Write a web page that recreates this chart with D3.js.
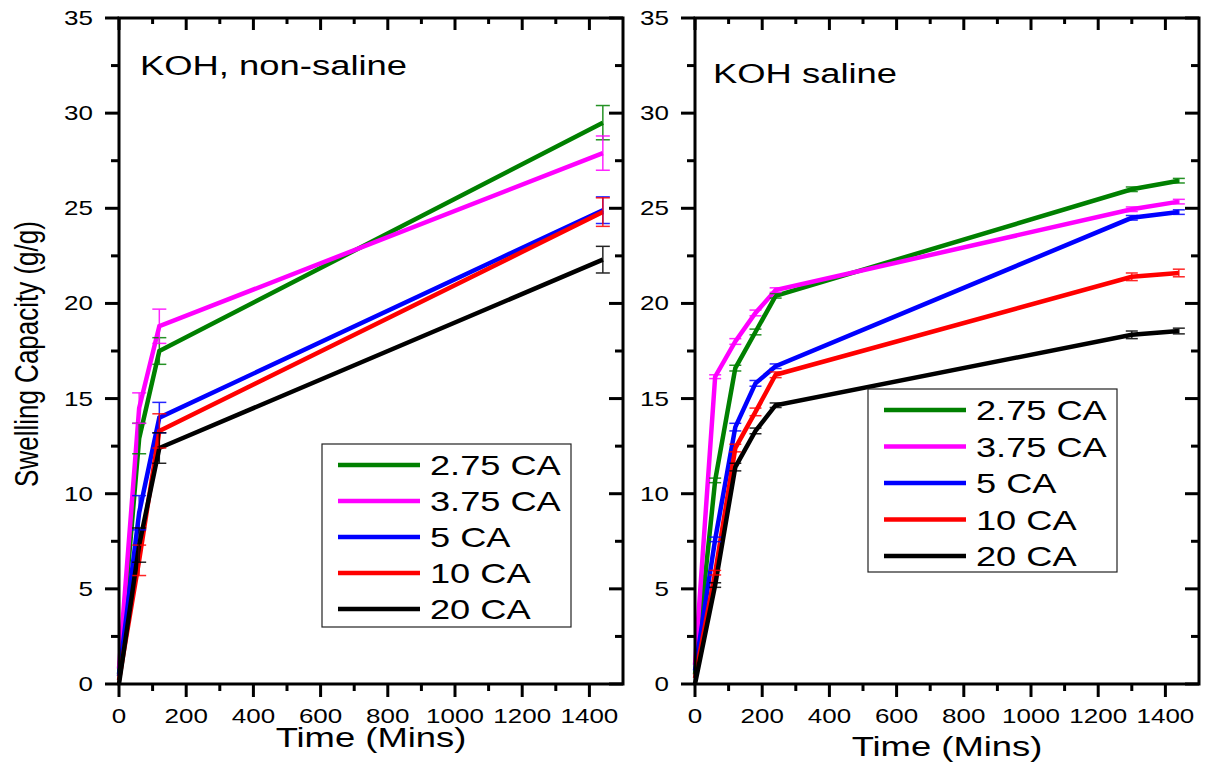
<!DOCTYPE html>
<html><head><meta charset="utf-8">
<script src="https://cdn.jsdelivr.net/npm/d3@7"></script>
<style>
html,body{margin:0;padding:0;background:#fff;}
svg{display:block;font-family:"Liberation Sans",Arial,sans-serif;}
</style></head>
<body>
<svg id="chart" width="1212" height="763"></svg>
<script>
// ---------- data ----------
const seriesNames = ["2.75 CA", "3.75 CA", "5 CA", "10 CA", "20 CA"];
const seriesColors = ["#008000", "#ff00ff", "#0000ff", "#ff0000", "#000000"];

// Panel A: KOH, non-saline
const timesA = [0, 60, 120, 1440];
const a_275 = [0.5, 12.9, 17.5, 29.5];
const a_375 = [0.8, 14.5, 18.8, 27.9];
const a_5   = [0.4, 9.0, 14.0, 24.9];
const a_10  = [0.2, 6.5, 13.3, 24.8];
const a_20  = [0.0, 7.3, 12.4, 22.3];
const aErr_275 = [0, 0.8, 0.7, 0.9];
const aErr_375 = [0, 0.8, 0.9, 0.9];
const aErr_5   = [0, 0.9, 0.8, 0.7];
const aErr_10  = [0, 0.8, 0.9, 0.75];
const aErr_20  = [0, 0.9, 0.8, 0.7];

// Panel B: KOH saline
const timesB = [0, 60, 120, 180, 240, 1300, 1440];
const b_275 = [0.5, 10.7, 16.6, 18.5, 20.4, 26.0, 26.45];
const b_375 = [1.0, 16.15, 18.0, 19.5, 20.7, 24.95, 25.35];
const b_5   = [0.7, 7.6, 13.5, 15.8, 16.7, 24.5, 24.8];
const b_10  = [0.3, 5.85, 12.4, 14.3, 16.25, 21.4, 21.6];
const b_20  = [0.0, 5.2, 11.4, 13.3, 14.65, 18.35, 18.55];
const bErr_275 = [0, 0.12, 0.15, 0.15, 0.12, 0.12, 0.12];
const bErr_375 = [0, 0.1, 0.15, 0.15, 0.12, 0.12, 0.12];
const bErr_5   = [0, 0.12, 0.2, 0.15, 0.12, 0.12, 0.12];
const bErr_10  = [0, 0.12, 0.2, 0.2, 0.15, 0.2, 0.2];
const bErr_20  = [0, 0.12, 0.2, 0.15, 0.12, 0.2, 0.15];

const xTicks = [0, 200, 400, 600, 800, 1000, 1200, 1400];
const yTicks = [0, 5, 10, 15, 20, 25, 30, 35];
const xDomain = [0, 1500];
const yDomain = [0, 35];
const yTitle = "Swelling Capacity (g/g)";
const xTitle = "Time (Mins)";

const panels = [
  {title: "KOH, non-saline", times: timesA,
   values: [a_275, a_375, a_5, a_10, a_20],
   errors: [aErr_275, aErr_375, aErr_5, aErr_10, aErr_20],
   x0: 119, x1: 623, titleX: 140, titleY: 75, xTitleY: 747,
   legend: {x: 322, y: 444, w: 249, h: 183, row0: 465, step: 36}, capW: 14},
  {title: "KOH saline", times: timesB,
   values: [b_275, b_375, b_5, b_10, b_20],
   errors: [bErr_275, bErr_375, bErr_5, bErr_10, bErr_20],
   x0: 695, x1: 1199, titleX: 713, titleY: 83, xTitleY: 756,
   legend: {x: 868, y: 389, w: 249, h: 183, row0: 410, step: 36.5}, capW: 12}
];

// ---------- drawing ----------
const svg = d3.select("#chart");
const SX = 1.3;
const yTop = 18, yBot = 684;

function stext(g, x, y, str, size, anchor, sx) {
  return g.append("text")
    .attr("transform", `translate(${x},${y}) scale(${sx || SX},1)`)
    .attr("text-anchor", anchor || "start")
    .attr("font-size", size)
    .attr("fill", "#000")
    .text(str);
}

panels.forEach(p => {
  const g = svg.append("g");
  const x = d3.scaleLinear().domain(xDomain).range([p.x0, p.x1]);
  const y = d3.scaleLinear().domain(yDomain).range([yBot, yTop]);
  const xMinor = d3.range(100, 1500, 200);
  const yMinor = d3.range(2.5, 35, 5);

  // series lines
  const line = d3.line().x(d => x(d[0])).y(d => y(d[1]));
  p.values.forEach((vals, i) => {
    const pts = p.times.map((t, k) => [t, vals[k]]);
    g.append("path").attr("d", line(pts)).attr("fill", "none")
      .attr("stroke", seriesColors[i]).attr("stroke-width", 4.5)
      .attr("stroke-linejoin", "miter");
  });
  // error bars
  p.values.forEach((vals, i) => {
    p.times.forEach((t, k) => {
      const e = p.errors[i][k];
      if (!e) return;
      const cx = x(t), yt = y(vals[k] + e), yb = y(vals[k] - e);
      const eg = g.append("g").attr("stroke", seriesColors[i]).attr("stroke-width", 1.5).attr("opacity", 0.85);
      eg.append("line").attr("x1", cx).attr("x2", cx).attr("y1", yt).attr("y2", yb);
      eg.append("line").attr("x1", cx - p.capW/2).attr("x2", cx + p.capW/2).attr("y1", yt).attr("y2", yt);
      eg.append("line").attr("x1", cx - p.capW/2).attr("x2", cx + p.capW/2).attr("y1", yb).attr("y2", yb);
    });
  });

  // frame
  g.append("rect").attr("x", p.x0).attr("y", yTop).attr("width", p.x1 - p.x0)
    .attr("height", yBot - yTop).attr("fill", "none").attr("stroke", "#000").attr("stroke-width", 3);

  const tk = g.append("g").attr("stroke", "#000").attr("stroke-width", 3);
  // bottom ticks (outward)
  xTicks.forEach(t => tk.append("line").attr("x1", x(t)).attr("x2", x(t)).attr("y1", yBot).attr("y2", yBot + 13));
  xMinor.forEach(t => tk.append("line").attr("x1", x(t)).attr("x2", x(t)).attr("y1", yBot).attr("y2", yBot + 7));
  // top ticks (inward)
  xTicks.forEach(t => tk.append("line").attr("x1", x(t)).attr("x2", x(t)).attr("y1", yTop).attr("y2", yTop + 12));
  xMinor.forEach(t => tk.append("line").attr("x1", x(t)).attr("x2", x(t)).attr("y1", yTop).attr("y2", yTop + 6));
  // left ticks (outward)
  yTicks.forEach(v => tk.append("line").attr("x1", p.x0 - 14).attr("x2", p.x0).attr("y1", y(v)).attr("y2", y(v)));
  yMinor.forEach(v => tk.append("line").attr("x1", p.x0 - 8).attr("x2", p.x0).attr("y1", y(v)).attr("y2", y(v)));
  // right ticks (inward)
  yTicks.forEach(v => tk.append("line").attr("x1", p.x1 - 14).attr("x2", p.x1).attr("y1", y(v)).attr("y2", y(v)));
  yMinor.forEach(v => tk.append("line").attr("x1", p.x1 - 8).attr("x2", p.x1).attr("y1", y(v)).attr("y2", y(v)));

  // tick labels
  xTicks.forEach(t => stext(g, x(t), 723, String(t), 20, "middle"));
  yTicks.forEach(v => stext(g, p.x0 - 26, y(v) + 7, String(v), 20, "end"));

  // titles
  stext(g, p.titleX, p.titleY, p.title, 28, "start");
  stext(g, (p.x0 + p.x1) / 2, p.xTitleY, xTitle, 28, "middle");

  // legend
  const L = p.legend;
  const lg = g.append("g");
  lg.append("rect").attr("x", L.x).attr("y", L.y).attr("width", L.w).attr("height", L.h)
    .attr("fill", "#fff").attr("stroke", "#222").attr("stroke-width", 1.2);
  seriesNames.forEach((n, i) => {
    const ry = L.row0 + i * L.step;
    lg.append("line").attr("x1", L.x + 16).attr("x2", L.x + 98).attr("y1", ry).attr("y2", ry)
      .attr("stroke", seriesColors[i]).attr("stroke-width", 4.5);
    stext(lg, L.x + 108, ry + 10, n, 27, "start", 1.34);
  });
});

// y axis title
svg.append("text")
  .attr("transform", `translate(38,354) scale(1.3,1) rotate(-90)`)
  .attr("text-anchor", "middle").attr("font-size", 26).attr("fill", "#000")
  .text(yTitle);
</script>
</body></html>
